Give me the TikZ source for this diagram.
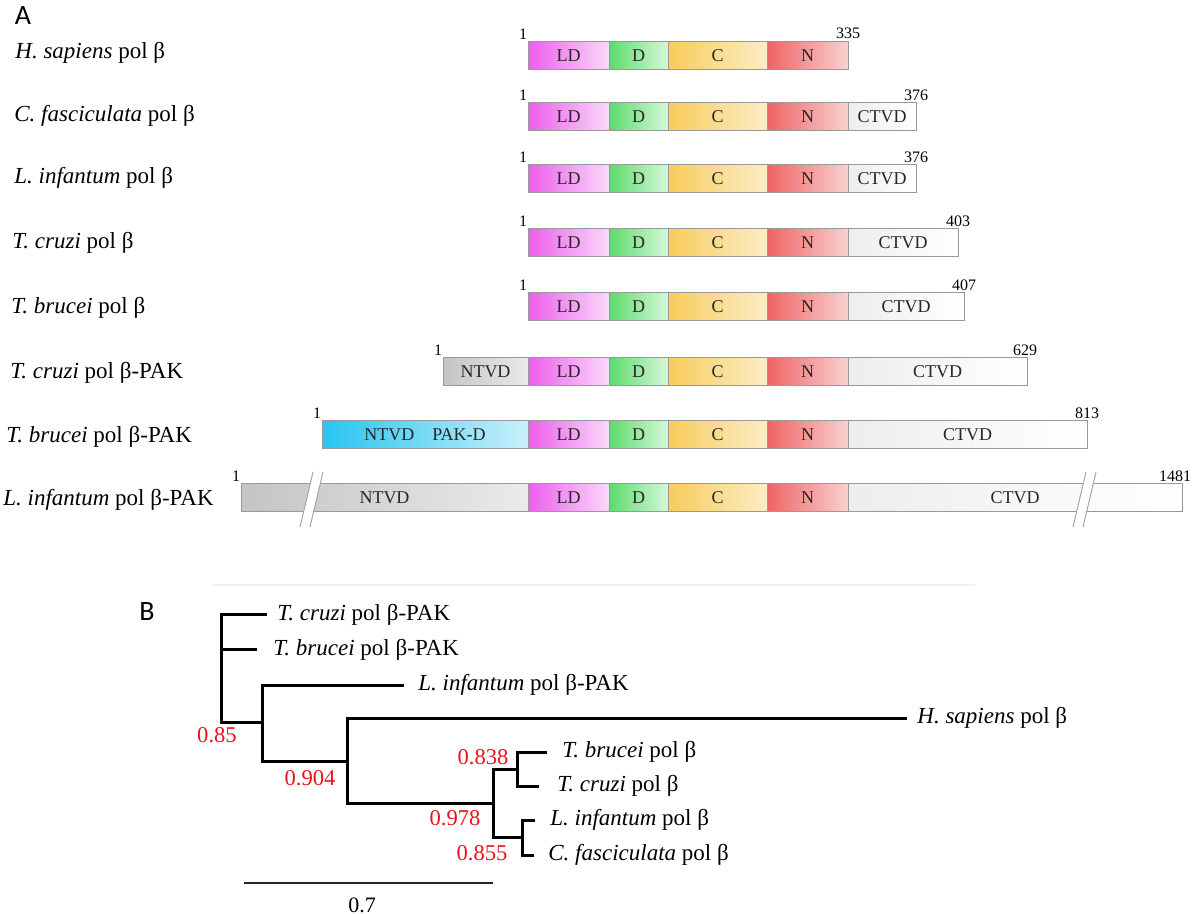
\documentclass[tikz,border=0pt]{standalone}
\usepackage{fontspec}
\setmainfont{Liberation Serif}
\newfontfamily\panelfont{Carlito}
\usepackage{tikz}
\usetikzlibrary{positioning}

\definecolor{ldcol}{HTML}{EC60EC}
\definecolor{dcol}{HTML}{5CDC6A}
\definecolor{ccol}{HTML}{F8CC5C}
\definecolor{ncol}{HTML}{EE6464}
\definecolor{ntcol}{HTML}{C4C4C4}
\definecolor{pakcol}{HTML}{28C4F0}
\definecolor{supcol}{HTML}{E8141C}

\begin{document}
\begin{tikzpicture}[
    x = 0.5pt, y = -0.5pt, % one unit = one pixel of the figure
    dom/.style = {draw = black!40, line width = 0.5pt, minimum height = 14pt,
                  inner sep = 0pt, outer sep = 0pt, text = black!85,
                  font = \fontsize{9}{10}\selectfont},
    ld/.style = {dom, left color = ldcol, right color = ldcol!25, minimum width = 40.5pt},
    dd/.style = {dom, left color = dcol, right color = dcol!25, minimum width = 29.5pt},
    cc/.style = {dom, left color = ccol, right color = ccol!35, minimum width = 49.5pt},
    nn/.style = {dom, left color = ncol, right color = ncol!30, minimum width = 40.5pt},
    ctvd/.style = {dom, left color = black!7, right color = white},
    ntvd/.style = {dom, left color = ntcol, right color = ntcol!35},
    pakd/.style = {dom, left color = pakcol, right color = pakcol!25},
    num/.style = {inner sep = 1pt, font = \fontsize{8}{9}\selectfont},
    taxon/.style = {anchor = west, inner sep = 0pt, font = \fontsize{11.5}{13}\selectfont},
    support/.style = {text = supcol, inner sep = 0pt, font = \fontsize{11.3}{13}\selectfont},
    branch/.style = {line width = 1.5pt, line cap = rect},
    panel/.style = {inner sep = 0pt, font = \panelfont\fontsize{14}{16}\selectfont},
    ]

    \useasboundingbox (0,0) rectangle (1195,914);

    % ---------- A: domain architecture ----------
    \node[panel] (A) at (23,16) {A};

    \foreach \r/\y in {1/55.5, 2/117, 3/179, 4/243, 5/307, 6/372, 7/435, 8/498} {
        \node[ld, anchor = west] (ld\r) at (528,\y) {LD};
        \node[dd, right = 0pt of ld\r] (d\r) {D};
        \node[cc, right = 0pt of d\r] (c\r) {C};
        \node[nn, right = 0pt of c\r] (n\r) {N};
    }
    \foreach \r/\e in {2/916, 3/916, 4/958, 5/964, 6/1027, 7/1087, 8/1182}
        \node[ctvd, minimum width = {(\e-848)*0.5pt}, right = 0pt of n\r] (ct\r) {CTVD};

    \node[ntvd, minimum width = 42.5pt, left = 0pt of ld6] (nt6) {NTVD};
    \node[pakd, minimum width = 103pt, left = 0pt of ld7] (pak7) {NTVD\quad PAK-D};
    \node[ntvd, minimum width = 143.5pt, left = 0pt of ld8] (nt8) {NTVD};

    % break marks on the long protein
    \foreach \t in {313, 1086} {
        \fill[white] (\t,472) -- ++(10,0) -- ++(-13,55) -- ++(-10,0) -- cycle;
        \draw[black!35, line width = 0.5pt] (\t,472) -- ++(-13,55)
                                            (\t+10,472) -- ++(-13,55);
    }

    % sequence lengths
    \foreach \b in {ld1, ld2, ld3, ld4, ld5, nt6, pak7, nt8}
        \node[num, anchor = south] at ([xshift = -2.5pt]\b.north west) {1};
    \node[num, anchor = south] at (n1.north east) {335};
    \node[num, anchor = south] at (ct2.north east) {376};
    \node[num, anchor = south] at (ct3.north east) {376};
    \node[num, anchor = south] at (ct4.north east) {403};
    \node[num, anchor = south] at (ct5.north east) {407};
    \node[num, anchor = south] at ([xshift = -1pt]ct6.north east) {629};
    \node[num, anchor = south] at (ct7.north east) {813};
    \node[num, anchor = south] at ([xshift = -3.5pt]ct8.north east) {1481};

    % protein names
    \node[taxon] (hsA) at (15,53) {\textit{H. sapiens} pol β};
    \node[taxon] (cfA) at (14,116) {\textit{C. fasciculata} pol β};
    \node[taxon] (liA) at (14,178) {\textit{L. infantum} pol β};
    \node[taxon] (tcA) at (12,243) {\textit{T. cruzi} pol β};
    \node[taxon] (tbA) at (11,308) {\textit{T. brucei} pol β};
    \node[taxon] (tcpakA) at (10,373) {\textit{T. cruzi} pol β-PAK};
    \node[taxon] (tbpakA) at (6,437) {\textit{T. brucei} pol β-PAK};
    \node[taxon] (lipakA) at (3,500) {\textit{L. infantum} pol β-PAK};

    % ---------- B: tree ----------
    \node[panel] (B) at (147,612) {B};
    \draw[black!6, line width = 0.8pt] (213,585) -- (975,585);

    % inner nodes of the tree
    \coordinate (r1) at (221,722);
    \coordinate (r2) at (262,722);
    \coordinate (r3) at (347,761);
    \coordinate (r4) at (493,803);
    \coordinate (r5) at (517,769);
    \coordinate (r6) at (522,837);
    % tips
    \coordinate (tcpak) at (265,615);
    \coordinate (tbpak) at (255,650);
    \coordinate (lipak) at (402,685);
    \coordinate (hs) at (905,718);
    \coordinate (tb) at (545,752);
    \coordinate (tc) at (537,786);
    \coordinate (li) at (533,820);
    \coordinate (cf) at (532,855);

    \draw[branch] (r1) |- (tcpak);
    \draw[branch] (r1) |- (tbpak);
    \draw[branch] (r1) -- (r2);
    \draw[branch] (r2) |- (lipak);
    \draw[branch] (r2) |- (r3);
    \draw[branch] (r3) |- (hs);
    \draw[branch] (r3) |- (r4);
    \draw[branch] (r4) |- (r5);
    \draw[branch] (r4) |- (r6);
    \draw[branch] (r5) |- (tb);
    \draw[branch] (r5) |- (tc);
    \draw[branch] (r6) |- (li);
    \draw[branch] (r6) |- (cf);

    \node[taxon] (tcpakB) at (277,615) {\textit{T. cruzi} pol β-PAK};
    \node[taxon] (tbpakB) at (273,650) {\textit{T. brucei} pol β-PAK};
    \node[taxon] (lipakB) at (418,685) {\textit{L. infantum} pol β-PAK};
    \node[taxon] (hsB) at (917,718) {\textit{H. sapiens} pol β};
    \node[taxon] (tbB) at (562,752) {\textit{T. brucei} pol β};
    \node[taxon] (tcB) at (557,786) {\textit{T. cruzi} pol β};
    \node[taxon] (liB) at (550,820) {\textit{L. infantum} pol β};
    \node[taxon] (cfB) at (548,855) {\textit{C. fasciculata} pol β};

    % support values
    \node[support] (s1) at (217,735) {0.85};
    \node[support] (s2) at (310,778) {0.904};
    \node[support] (s3) at (483,757) {0.838};
    \node[support] (s4) at (455,818) {0.978};
    \node[support] (s5) at (482,853) {0.855};

    % scale bar
    \coordinate (bar0) at (244,883);
    \coordinate (bar1) at (493,883);
    \draw[black!85, line width = 1.3pt] (bar0) -- (bar1);
    \node[inner sep = 0pt, font = \fontsize{11}{13}\selectfont] (barL) at (362,905) {0.7};
\end{tikzpicture}
\end{document}
